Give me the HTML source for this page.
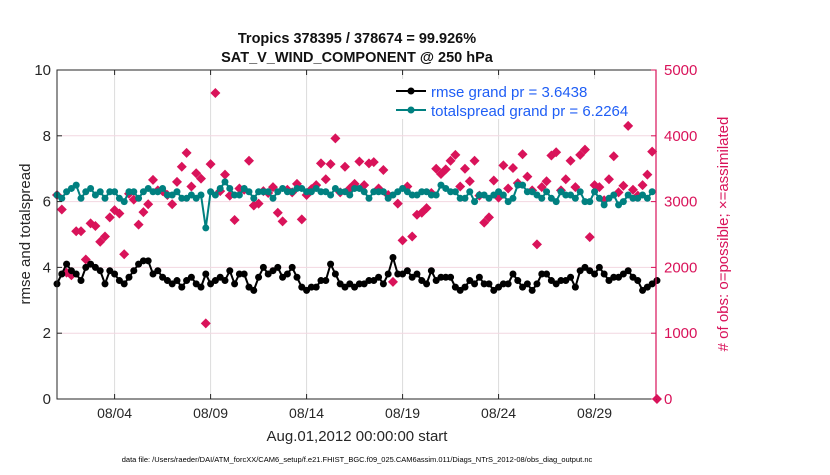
<!DOCTYPE html>
<html><head><meta charset="utf-8"><style>
body{margin:0;background:#fff;font-family:"Liberation Sans",sans-serif}
svg text{font-family:"Liberation Sans",sans-serif}
</style></head><body>
<svg id="chart" width="830" height="470" xmlns="http://www.w3.org/2000/svg">
<rect width="830" height="470" fill="#fff"/>
<g id="grid"></g>
<g id="series"></g>
<rect x="57" y="70" width="599" height="329" fill="none" stroke="#262626" stroke-width="1"/>
<line x1="656" y1="70" x2="656" y2="399" stroke="#d9135a" stroke-width="1.2"/>
<g id="axes"></g>
<text x="357" y="43" text-anchor="middle" font-size="14.5" font-weight="bold" fill="#111">Tropics 378395 / 378674 = 99.926%</text>
<text x="357" y="62" text-anchor="middle" font-size="14.5" font-weight="bold" fill="#111">SAT_V_WIND_COMPONENT @ 250 hPa</text>
<text transform="translate(30,234) rotate(-90)" text-anchor="middle" font-size="15" fill="#262626">rmse and totalspread</text>
<text transform="translate(728,234) rotate(-90)" text-anchor="middle" font-size="15" fill="#d9135a"># of obs: o=possible; ×=assimilated</text>
<text x="357" y="441" text-anchor="middle" font-size="15" fill="#262626">Aug.01,2012 00:00:00 start</text>
<text x="357" y="462" text-anchor="middle" font-size="7.5" fill="#000">data file: /Users/raeder/DAI/ATM_forcXX/CAM6_setup/f.e21.FHIST_BGC.f09_025.CAM6assim.011/Diags_NTrS_2012-08/obs_diag_output.nc</text>
<g>
<rect x="388" y="79" width="262" height="40" fill="#fff"/>
<line x1="396" y1="91" x2="426" y2="91" stroke="#000" stroke-width="2"/><circle cx="411" cy="91" r="3.5" fill="#000"/>
<text x="431" y="97" font-size="15" fill="#1f5ef5">rmse grand pr = 3.6438</text>
<line x1="396" y1="110" x2="426" y2="110" stroke="#008080" stroke-width="2"/><circle cx="411" cy="110" r="3.5" fill="#008080"/>
<text x="431" y="116" font-size="15" fill="#1f5ef5">totalspread grand pr = 6.2264</text>
</g>
</svg>
<script>
const rmse=[3.5,3.8,4.1,3.9,3.8,3.6,4.0,4.1,4.0,3.9,3.5,3.9,3.8,3.6,3.5,3.7,3.9,4.1,4.2,4.2,3.8,3.9,3.7,3.6,3.5,3.6,3.4,3.6,3.7,3.5,3.4,3.8,3.5,3.6,3.7,3.6,3.9,3.5,3.8,3.8,3.4,3.3,3.7,4.0,3.8,3.9,4.0,3.7,3.8,4.0,3.7,3.4,3.3,3.4,3.4,3.6,3.6,4.1,3.8,3.5,3.4,3.5,3.4,3.5,3.5,3.6,3.6,3.7,3.5,3.8,4.3,3.8,3.8,3.9,3.7,3.8,3.6,3.5,3.9,3.6,3.7,3.7,3.7,3.4,3.3,3.4,3.6,3.5,3.7,3.5,3.5,3.3,3.4,3.5,3.5,3.8,3.6,3.4,3.5,3.3,3.5,3.8,3.8,3.6,3.5,3.6,3.6,3.7,3.4,3.9,4.0,3.9,3.8,4.0,3.8,3.6,3.7,3.7,3.8,3.9,3.7,3.6,3.3,3.4,3.5,3.6];
const spread=[6.2,6.1,6.3,6.4,6.5,6.1,6.3,6.4,6.2,6.3,6.1,6.3,6.3,6.1,6.0,6.3,6.3,6.1,6.3,6.4,6.3,6.3,6.4,6.2,6.2,6.3,6.1,6.1,6.2,6.1,6.2,5.2,6.3,6.2,6.4,6.6,6.4,6.2,6.2,6.4,6.3,6.1,6.3,6.3,6.3,6.1,6.3,6.4,6.3,6.3,6.4,6.4,6.3,6.3,6.4,6.3,6.3,6.2,6.4,6.3,6.3,6.2,6.4,6.4,6.3,6.1,6.3,6.3,6.3,6.1,6.2,6.3,6.4,6.3,6.2,6.2,6.3,6.3,6.2,6.2,6.5,6.4,6.3,6.3,6.1,6.1,6.3,6.0,6.2,6.2,6.1,6.2,6.3,6.2,6.0,6.1,6.5,6.5,6.3,6.3,6.2,6.1,6.3,6.1,6.0,6.3,6.2,6.2,6.1,6.3,6.0,6.0,6.3,6.1,5.9,6.1,6.2,5.9,6.0,6.2,6.1,6.1,6.2,6.1,6.3];
const obs=[3100,2880,1920,1880,2550,2550,2120,2670,2630,2390,2470,2760,2870,2820,2200,3120,3030,2650,2840,2960,3330,3170,3160,3100,2960,3300,3530,3740,3230,3430,3350,1150,3570,4650,3160,3410,3090,2720,3200,3180,3620,2940,2970,3160,3130,3220,2830,2700,3180,3140,3270,2730,3100,3190,3250,3580,3340,3570,3960,3140,3530,3200,3270,3610,3250,3580,3600,3200,3480,3100,1780,2970,2410,3230,2470,2800,2830,2900,3130,3500,3420,3490,3620,3710,3230,3500,3310,3620,3090,2680,2760,3320,3060,3550,3200,3510,3280,3720,3380,3170,2350,3220,3310,3700,3750,3170,3340,3620,3220,3710,3790,2460,3250,3220,3020,3340,3690,3140,3240,4150,3180,3090,3250,3410,3760];
obs.push(0);
</script>
<script>
const NS="http://www.w3.org/2000/svg";
const X0=57,X1=656,Y0=399,Y1=70;
const xTicks=["08/04","08/09","08/14","08/19","08/24","08/29"];
const xTickDays=[3,8,13,18,23,28];
const yTicks=[0,2,4,6,8,10];
const rTicks=[0,1000,2000,3000,4000,5000];
function xs(i){return X0+(i/4)*(X1-X0)/31.2;}
function xd(d){return X0+d*(X1-X0)/31.2;}
function yl(v){return Y0-(v/10)*(Y0-Y1);}
function yr(v){return Y0-(v/5000)*(Y0-Y1);}
function mk(tag,attrs,parent){const e=document.createElementNS(NS,tag);for(const k in attrs)e.setAttribute(k,attrs[k]);parent.appendChild(e);return e;}
const grid=document.getElementById('grid'),axes=document.getElementById('axes'),ser=document.getElementById('series');
xTickDays.forEach((d,i)=>{
 const g=mk('line',{x1:xd(d),x2:xd(d),y1:Y1,y2:Y0,stroke:'#dcdcdc','stroke-width':1},grid);
 
 
 mk('line',{x1:xd(d),x2:xd(d),y1:Y0,y2:Y0-5,stroke:'#262626'},axes);
 mk('line',{x1:xd(d),x2:xd(d),y1:Y1,y2:Y1+5,stroke:'#262626'},axes);
 const t=mk('text',{x:xd(d),y:418,'text-anchor':'middle','font-size':14,fill:'#262626'},axes);
 t.textContent=xTicks[i];
 
 
});
yTicks.forEach(v=>{
 const g=mk('line',{x1:X0,x2:X1,y1:yl(v),y2:yl(v),stroke:'#f2d7e1','stroke-width':1},grid);
 
 
 mk('line',{x1:X0,x2:X0+5,y1:yl(v),y2:yl(v),stroke:'#262626'},axes);
 const t=mk('text',{x:51,y:yl(v)+5,'text-anchor':'end','font-size':15,fill:'#262626'},axes);
 t.textContent=v;
 
 
});
rTicks.forEach(v=>{
 mk('line',{x1:X1-5,x2:X1,y1:yr(v),y2:yr(v),stroke:'#d9135a'},axes);
 const t=mk('text',{x:664,y:yr(v)+5,'font-size':15,fill:'#d9135a'},axes);
 t.textContent=v;
 
 
});
obs.forEach((v,i)=>{
 const x=xs(i),y=yr(v),s=5;
 const p=mk('polygon',{points:`${x},${y-s} ${x+s},${y} ${x},${y+s} ${x-s},${y}`,fill:'#d9135a'},ser);
 
 
});
function line(arr,color,name){
 const pl=mk('polyline',{points:arr.map((v,i)=>xs(i)+','+yl(v)).join(' '),fill:'none',stroke:color,'stroke-width':2},ser);
 
 
 arr.forEach((v,i)=>{
  const c=mk('circle',{cx:xs(i),cy:yl(v),r:3.5,fill:color},ser);
  
  
 });
}
line(spread,'#008080','totalspread');
line(rmse,'#000000','rmse');
</script>
</body></html>
